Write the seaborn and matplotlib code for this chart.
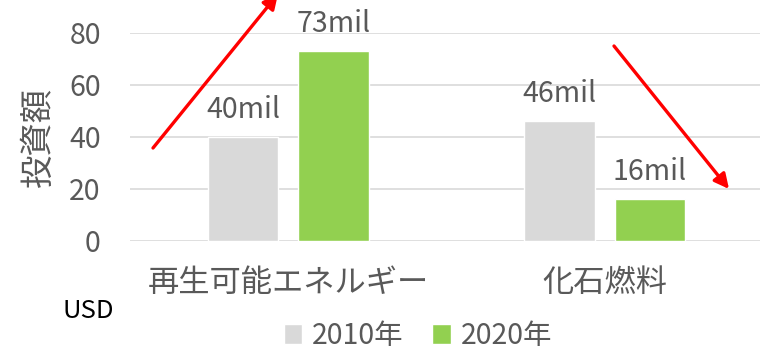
import matplotlib
matplotlib.use("Agg")
import matplotlib.pyplot as plt
import seaborn as sns
import pandas as pd

categories = ["再生可能エネルギー", "化石燃料"]
years = ["2010年", "2020年"]
values_2010 = [40, 46]
values_2020 = [73, 16]
yticks = [0, 20, 40, 60, 80]

sns.set_theme(style="white")
plt.rcParams["font.family"] = ["Noto Sans CJK JP", "DejaVu Sans"]

df = pd.DataFrame({
    "category": categories * 2,
    "year": [years[0]] * 2 + [years[1]] * 2,
    "value": values_2010 + values_2020,
})

TXT = "#595959"
fig = plt.figure(figsize=(7.6, 3.51), dpi=100)
W, H = 760, 351
ax = fig.add_axes([130 / W, 1 - 241 / H, 633 / W, 208 / H])

sns.barplot(data=df, x="category", y="value", hue="year", order=categories,
            hue_order=years, palette=["#d9d9d9", "#92d050"], width=0.572,
            gap=0.217, ax=ax, legend=True, saturation=1, errorbar=None)

ax.set_xlim(-0.5, 1.5)
ax.set_ylim(0, 80)
ax.set_yticks(yticks)
ax.yaxis.grid(True, color="#d9d9d9", lw=1.2)
ax.set_axisbelow(True)
for s in ax.spines.values():
    s.set_visible(False)
ax.tick_params(axis="y", length=0, pad=21, labelsize=20.5, labelcolor=TXT)
ax.tick_params(axis="x", length=0, pad=19, labelsize=22.5, labelcolor=TXT)
ax.set_xlabel("")
ax.set_ylabel("")

for cont in ax.containers:
    ax.bar_label(cont, labels=[f"{v:.0f}mil" for v in cont.datavalues],
                 padding=9, fontsize=20.5, color=TXT, clip_on=False)

fig.text(38 / W, 1 - 137 / H, "投資額", rotation=90, ha="center", va="center",
         fontsize=24, color=TXT)
fig.text(88 / W, 1 - 311 / H, "USD", ha="center", va="center",
         fontsize=18.5, color="black")

handles, labels = ax.get_legend_handles_labels()
ax.legend(handles, labels, loc="center", bbox_to_anchor=(418 / W, 1 - 336 / H),
          bbox_transform=fig.transFigure, ncol=2, frameon=False,
          handlelength=0.65, handleheight=0.65, handletextpad=0.35,
          columnspacing=1.0, fontsize=20.5, labelcolor=TXT,
          borderpad=0, borderaxespad=0)

def fig_xy(px, py):
    return (px / W, 1 - py / H)

arrow = dict(arrowstyle="-|>", color="red", lw=2.4, mutation_scale=22,
             shrinkA=0, shrinkB=0)
ax.annotate("", xy=fig_xy(278, -6), xytext=fig_xy(153, 148),
            xycoords="figure fraction", textcoords="figure fraction",
            arrowprops=arrow, annotation_clip=False)
ax.annotate("", xy=fig_xy(729, 189), xytext=fig_xy(614, 46),
            xycoords="figure fraction", textcoords="figure fraction",
            arrowprops=arrow, annotation_clip=False)

fig.savefig("out.png", dpi=100)
